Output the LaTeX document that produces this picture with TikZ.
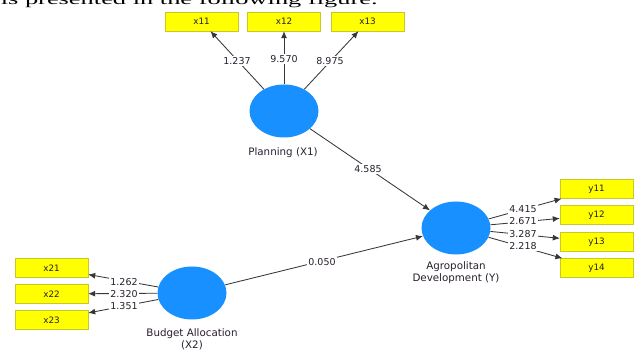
\documentclass[tikz,border=0pt]{standalone}
\usepackage{fontspec}
\setmainfont{DejaVu Sans}
\newfontfamily\serifpart{Liberation Serif}
\usetikzlibrary{shapes.geometric,arrows.meta}
\definecolor{lvblue}{RGB}{24,144,255}
\definecolor{boxyellow}{RGB}{255,255,0}
\definecolor{boxedge}{RGB}{200,200,40}
\definecolor{linegray}{RGB}{55,55,55}
\definecolor{txtgray}{RGB}{40,30,45}
\tikzset{
  ind/.style={draw=boxedge, fill=boxyellow, minimum width=73pt, minimum height=19pt, inner sep=0pt, font=\fontsize{8.8}{9}\selectfont, text=txtgray},
  lv/.style={ellipse, fill=lvblue, minimum width=69pt, minimum height=53pt, inner sep=0pt},
  lvlabel/.style={font=\fontsize{10.3}{12}\selectfont, text=txtgray, align=center},
  coef/.style={fill=white, inner sep=1pt, font=\fontsize{9.5}{10}\selectfont, text=txtgray},
  conn/.style={draw=linegray, line width=0.85pt, -{Latex[length=7pt,width=6pt]}},
}
\begin{document}
\begin{tikzpicture}[x=1pt,y=-1pt]
\useasboundingbox (0,0) rectangle (641,352);
\node[anchor=base east, inner sep=0pt, xscale=1.76, transform shape, font=\serifpart\fontsize{15}{18}\selectfont] (cap) at (378,4.3) {is presented in the following figure.};

% latent variables
\node[lv] (X1) at (284,111) {};
\node[lv] (Y) at (456,228) {};
\node[lv] (X2) at (192,293) {};

\node[lvlabel] (X1l) at (283,153) {Planning (X1)};
\node[lvlabel] (Yl) at (456,273) {Agropolitan\\Development (Y)};
\node[lvlabel] (X2l) at (192,339) {Budget Allocation\\(X2)};

% indicators
\node[ind] (x11) at (201.5,21.5) {x11};
\node[ind] (x12) at (284,21.5) {x12};
\node[ind] (x13) at (367.5,21.5) {x13};

\node[ind] (y11) at (596.5,189) {y11};
\node[ind] (y12) at (596.5,215) {y12};
\node[ind] (y13) at (596.5,242) {y13};
\node[ind] (y14) at (596.5,268) {y14};

\node[ind] (x21) at (51.5,268) {x21};
\node[ind] (x22) at (51.5,294) {x22};
\node[ind] (x23) at (51.5,320) {x23};

% connectors
\draw[conn] (X1) -- (x11);
\draw[conn] (X1) -- (x12);
\draw[conn] (X1) -- (x13);
\draw[conn] (X1) -- (Y);
\draw[conn] (X2) -- (Y);
\draw[conn] (Y) -- (y11);
\draw[conn] (Y) -- (y12);
\draw[conn] (Y) -- (y13);
\draw[conn] (Y) -- (y14);
\draw[conn] (X2) -- (x21);
\draw[conn] (X2) -- (x22);
\draw[conn] (X2) -- (x23);

% coefficients
\node[coef] (c11) at (237,61) {1.237};
\node[coef] (c12) at (284,59) {9.570};
\node[coef] (c13) at (330,61) {8.975};
\node[coef] (c1y) at (368,169) {4.585};
\node[coef] (c2y) at (322,262) {0.050};
\node[coef] (cy1) at (523,209) {4.415};
\node[coef] (cy2) at (523,221.5) {2.671};
\node[coef] (cy3) at (523,234) {3.287};
\node[coef] (cy4) at (523,246.5) {2.218};
\node[coef] (c21) at (124,282) {1.262};
\node[coef] (c22) at (124,294) {2.320};
\node[coef] (c23) at (124,306.5) {1.351};
\end{tikzpicture}
\end{document}
